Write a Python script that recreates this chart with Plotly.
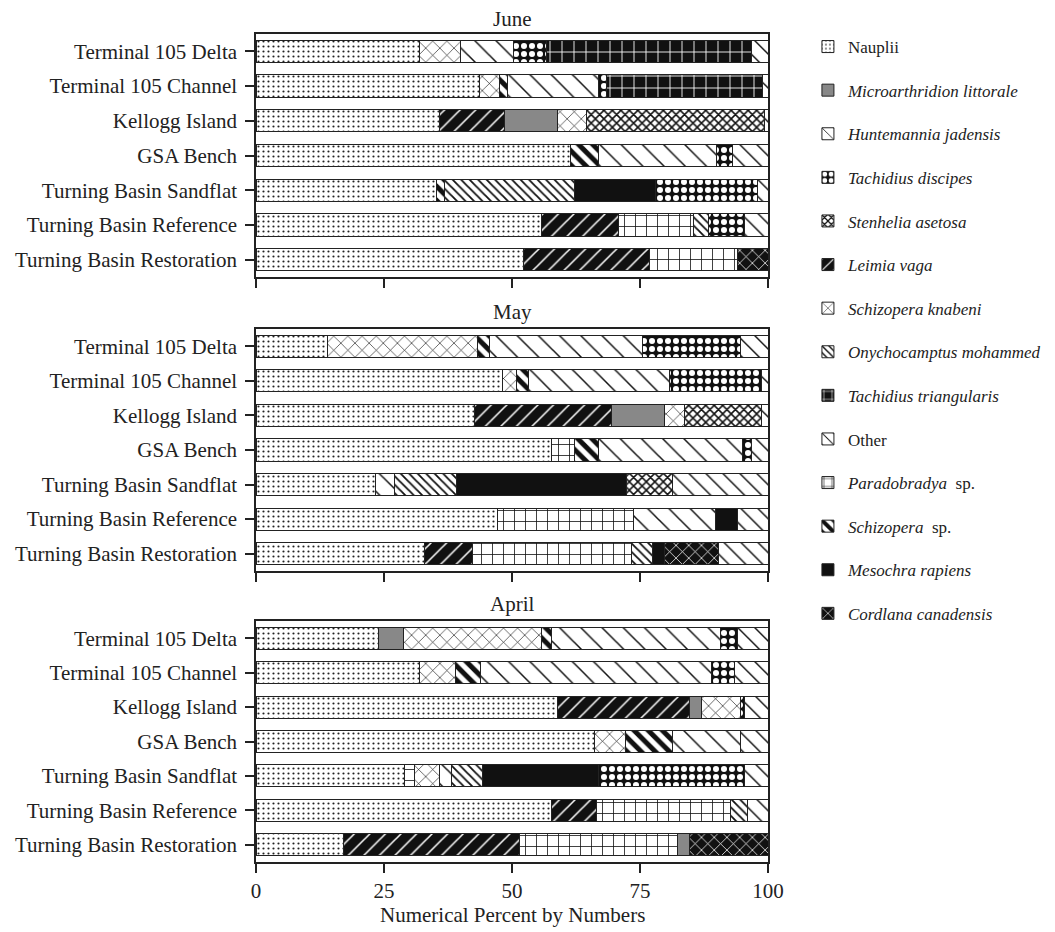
import plotly.graph_objects as go

# ---- data: numerical percent of each taxon, per site, per month ----
sites = [
    "Terminal 105 Delta",
    "Terminal 105 Channel",
    "Kellogg Island",
    "GSA Bench",
    "Turning Basin Sandflat",
    "Turning Basin Reference",
    "Turning Basin Restoration",
]
months = ["June", "May", "April"]

nauplii = {"June": [31.9, 43.6, 35.9, 61.5, 35.3, 55.8, 52.2],
           "May": [14.0, 48.2, 42.6, 57.8, 23.3, 47.2, 32.9],
           "April": [24.0, 31.9, 58.8, 66.1, 29.0, 57.8, 17.0]}
leimia_vaga = {"June": [0, 0, 12.6, 0, 0, 15.0, 24.6],
               "May": [0, 0, 26.9, 0, 0, 0, 9.3],
               "April": [0, 0, 25.9, 0, 0, 8.7, 34.5]}
paradobradya_sp = {"June": [0, 0, 0, 0, 0, 14.6, 17.2],
                   "May": [0, 0, 0, 4.4, 0, 26.6, 31.2],
                   "April": [0, 0, 0, 0, 1.9, 26.2, 30.9]}
microarthridion = {"June": [0, 0, 10.3, 0, 0, 0, 0],
                   "May": [0, 0, 10.2, 0, 0, 0, 0],
                   "April": [4.9, 0, 2.4, 0, 0, 0, 2.3]}
schizopera_knabeni = {"June": [8.0, 3.9, 5.7, 0, 0, 0, 0],
                      "May": [29.2, 2.7, 4.0, 0, 0, 0, 0],
                      "April": [26.9, 7.0, 7.6, 6.0, 5.0, 0, 0]}
schizopera_sp = {"June": [0, 1.7, 0, 5.3, 1.6, 0, 0],
                 "May": [2.4, 2.3, 0, 4.6, 0, 0, 0],
                 "April": [2.0, 5.0, 0, 9.3, 0, 0, 0]}
huntemannia = {"June": [10.3, 17.6, 0, 23.2, 0, 0, 0],
               "May": [29.8, 27.5, 0, 28.2, 3.7, 15.9, 0],
               "April": [32.9, 45.1, 0, 13.3, 2.3, 0, 0]}
onychocamptus = {"June": [0, 0, 0, 0, 25.3, 3.0, 0],
                 "May": [0, 0, 0, 0, 12.2, 0, 4.0],
                 "April": [0, 0, 0, 0, 6.0, 3.3, 0]}
mesochra = {"June": [0, 0, 0, 0, 15.9, 0, 0],
            "May": [0, 0, 0, 0, 33.2, 4.3, 2.3],
            "April": [0, 0, 0, 0, 22.6, 0, 0]}
tachidius_discipes = {"June": [6.6, 1.7, 0, 3.0, 19.9, 7.0, 0],
                      "May": [19.3, 18.0, 0, 1.7, 0, 0, 0],
                      "April": [3.3, 4.4, 0.7, 0, 28.6, 0, 0]}
stenhelia = {"June": [0, 0, 34.8, 0, 0, 0, 0],
             "May": [0, 0, 15.0, 0, 9.0, 0, 0],
             "April": [0, 0, 0, 0, 0, 0, 0]}
tachidius_triangularis = {"June": [39.9, 30.5, 0, 0, 0, 0, 0],
                          "May": [0, 0, 0, 0, 0, 0, 0],
                          "April": [0, 0, 0, 0, 0, 0, 0]}
cordlana = {"June": [0, 0, 0, 0, 0, 0, 6.0],
            "May": [0, 0, 0, 0, 0, 0, 10.7],
            "April": [0, 0, 0, 0, 0, 0, 15.3]}
other = {"June": [3.3, 1.0, 0.7, 7.0, 2.0, 4.6, 0],
         "May": [5.3, 1.3, 1.3, 3.3, 18.6, 6.0, 9.6],
         "April": [6.0, 6.6, 4.6, 5.3, 4.6, 4.0, 0]}

# ---- taxa in stacking order: (values, legend label, legend rank, fill style) ----
# style: (pattern shape, foreground, background, pattern size, solidity)
taxa = [
    (nauplii, "Nauplii", 1, (".", "#222", "#fff", 5, 0.15)),
    (leimia_vaga, "<i>Leimia vaga</i>", 6, ("/", "#fff", "#111", 11, 0.14)),
    (paradobradya_sp, "<i>Paradobradya</i>  sp.", 11, ("+", "#111", "#fff", 11, 0.14)),
    (microarthridion, "<i>Microarthridion littorale</i>", 2, ("", "#888", "#888", 8, 0.3)),
    (schizopera_knabeni, "<i>Schizopera knabeni</i>", 7, ("x", "#111", "#fff", 10, 0.12)),
    (schizopera_sp, "<i>Schizopera</i>  sp.", 12, ("\\", "#111", "#fff", 10, 0.5)),
    (huntemannia, "<i>Huntemannia jadensis</i>", 3, ("\\", "#111", "#fff", 15, 0.1)),
    (onychocamptus, "<i>Onychocamptus mohammed</i>", 8, ("\\", "#111", "#fff", 6, 0.3)),
    (mesochra, "<i>Mesochra rapiens</i>", 13, ("", "#111", "#111", 8, 0.3)),
    (tachidius_discipes, "<i>Tachidius discipes</i>", 4, (".", "#fff", "#111", 8, 0.45)),
    (stenhelia, "<i>Stenhelia asetosa</i>", 5, ("x", "#111", "#fff", 6, 0.45)),
    (tachidius_triangularis, "<i>Tachidius triangularis</i>", 9, ("+", "#fff", "#111", 12, 0.14)),
    (cordlana, "<i>Cordlana canadensis</i>", 14, ("x", "#fff", "#111", 9, 0.16)),
    (other, "Other", 10, ("\\", "#111", "#fff", 12, 0.12)),
]

FONT = "Liberation Serif"
INK = "#222"
W, H = 1055, 932

# panel extents in pixels (top, bottom) and panel title centres
panels = [(34, 277), (329, 571), (621, 862)]
title_y = [19, 312, 604]

fig = go.Figure()

for k, month in enumerate(months):
    suffix = "" if k == 0 else str(k + 1)
    for values, label, rank, (shape, fg, bg, size, solid) in taxa:
        xs = [v if v else None for v in values[month]]
        fig.add_trace(go.Bar(
            y=sites, x=xs, orientation="h",
            xaxis="x" + suffix, yaxis="y" + suffix,
            name=label, legendgroup=label, legendrank=rank,
            showlegend=(k == 0),
            marker=dict(
                color=bg,
                line=dict(color=INK, width=1),
                pattern=dict(shape=shape, fgcolor=fg, bgcolor=bg,
                             size=size, solidity=solid, fillmode="replace"),
            ),
        ))

layout = dict(
    width=W, height=H,
    margin=dict(l=256, r=287, t=0, b=0),
    paper_bgcolor="white", plot_bgcolor="white",
    barmode="stack", bargap=0.36,
    font=dict(family=FONT, color=INK, size=21),
    legend=dict(
        x=1.078, y=1 - 29 / H, xanchor="left", yanchor="top",
        font=dict(family=FONT, size=17, color=INK),
        tracegroupgap=18.5, itemwidth=30,
        bgcolor="rgba(0,0,0,0)",
    ),
)

annotations = []
for k, (top, bottom) in enumerate(panels):
    suffix = "" if k == 0 else str(k + 1)
    last = k == len(panels) - 1
    layout["xaxis" + suffix] = dict(
        anchor="y" + suffix, range=[0, 100],
        tickvals=[0, 25, 50, 75, 100],
        showticklabels=last, ticks="outside", ticklen=9, tickwidth=1.5,
        tickcolor=INK, showline=True, mirror=True, linecolor=INK,
        linewidth=1.5, showgrid=False, zeroline=False,
        tickfont=dict(size=21),
    )
    layout["yaxis" + suffix] = dict(
        anchor="x" + suffix,
        domain=[1 - bottom / H, 1 - top / H],
        autorange="reversed", ticks="outside", ticklen=9, tickwidth=1.5,
        tickcolor=INK, showline=True, mirror=True, linecolor=INK,
        linewidth=1.5, showgrid=False, tickfont=dict(size=21),
        ticklabelstandoff=4,
    )
    annotations.append(dict(
        text=months[k], x=0.5, y=1 - title_y[k] / H, yanchor="middle",
        xref="paper", yref="paper", showarrow=False,
        font=dict(size=21),
    ))

annotations.append(dict(
    text="Numerical Percent by Numbers", x=0.5, y=1 - 915 / H,
    yanchor="middle", xref="paper", yref="paper", showarrow=False,
    font=dict(size=21),
))
layout["annotations"] = annotations

fig.update_layout(**layout)
fig.write_html("out.html")
